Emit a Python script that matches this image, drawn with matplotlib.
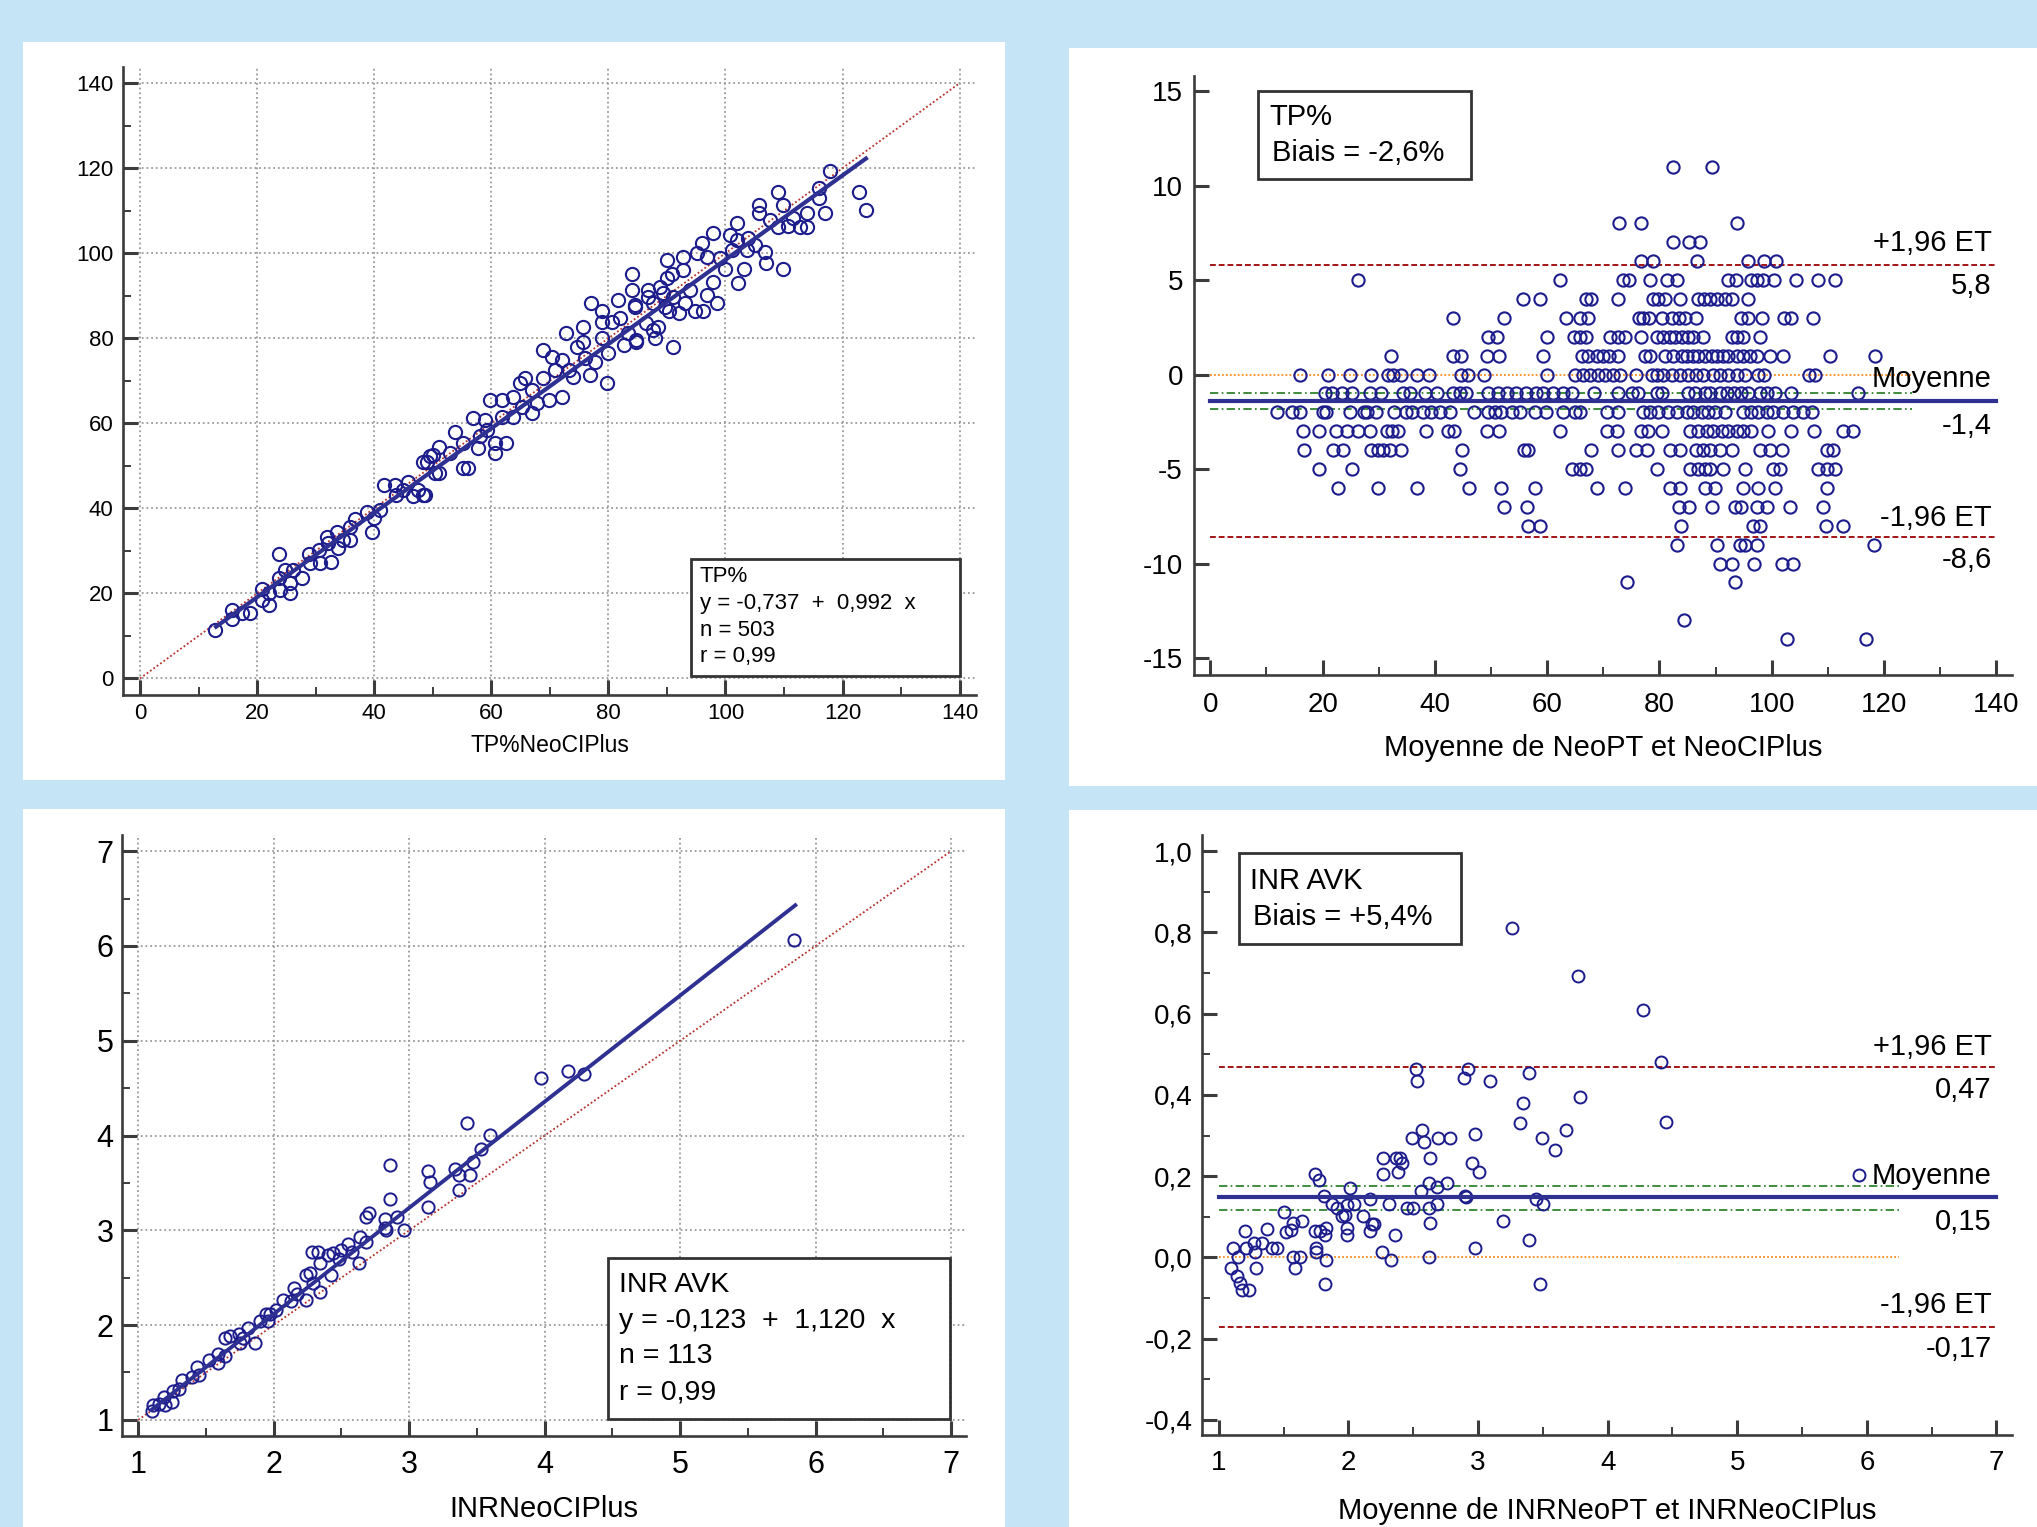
import numpy as np
import matplotlib
matplotlib.use("Agg")
import matplotlib.pyplot as plt
from matplotlib.patches import Rectangle
from matplotlib.ticker import MultipleLocator, FuncFormatter

plt.rcParams["font.family"] = ["Liberation Sans", "DejaVu Sans"]
plt.rcParams["axes.unicode_minus"] = False

W, H = 2037, 1527
BG = "#c5e4f5"
NAVY = "#1c1c8c"
LINE_BLUE = "#2f3192"
AXIS_GREY = "#3c3c3c"
GRID_GREY = "#9a9a9a"
RED = "#a31515"
GREEN = "#1e7a1e"
ORANGE = "#ff8a1c"

# ---- TP% : NeoCIPlus (x) vs NeoPT (y) ----
TP_SCATTER = [
    (12.8, 11.4), (15.7, 16.1), (15.7, 14.0), (17.4, 15.3), (18.8, 15.5), (20.8, 21.0),
    (20.8, 18.5), (22.0, 17.3), (22.0, 20.0), (23.8, 29.2), (23.8, 23.6), (23.9, 20.8),
    (24.8, 25.5), (25.6, 22.4), (25.7, 20.2), (26.2, 25.5), (27.6, 23.6), (28.8, 29.3),
    (29.0, 27.1), (30.5, 30.2), (30.8, 27.1), (31.9, 33.2), (32.2, 31.8), (32.7, 27.3),
    (33.6, 34.5), (33.9, 30.6), (34.7, 32.6), (35.9, 35.7), (35.9, 32.6), (36.7, 37.4),
    (38.7, 39.2), (39.7, 34.4), (39.9, 37.7), (41.0, 39.6), (41.6, 45.5), (43.6, 45.5),
    (43.8, 43.2), (45.0, 44.3), (45.8, 46.3), (46.7, 42.8), (47.5, 44.3), (48.4, 43.2),
    (49.0, 51.0), (50.1, 52.6), (50.4, 48.3),
    (48.7, 43.2), (48.4, 51.0), (49.5, 52.2), (51.0, 54.5), (51.0, 48.3), (53.0, 53.0),
    (53.8, 58.0), (55.2, 49.4), (56.1, 49.4), (55.2, 55.3), (56.8, 61.3), (57.8, 54.1),
    (58.1, 56.9), (58.9, 60.8), (59.2, 58.4), (59.8, 65.5), (60.6, 55.3), (60.6, 53.0),
    (61.8, 65.5), (61.8, 61.6), (62.6, 55.3), (63.8, 66.3), (63.8, 61.6), (64.9, 69.4),
    (65.2, 63.9), (65.8, 70.6), (66.9, 62.4), (66.9, 67.8), (67.8, 64.7), (68.9, 77.2),
    (68.9, 70.6), (69.8, 65.5), (70.3, 75.7), (70.9, 72.5), (72.0, 74.9), (72.0, 66.3),
    (72.8, 81.3), (73.2, 72.5), (74.0, 71.0), (74.6, 78.0), (75.7, 82.7), (75.7, 79.2),
    (76.0, 75.3), (76.9, 71.4), (77.0, 88.2), (77.7, 74.5), (78.9, 86.3), (78.9, 83.9),
    (79.0, 80.0), (79.7, 69.4), (80.0, 76.5), (80.6, 83.9), (81.7, 89.0), (82.0, 84.7),
    (82.6, 78.4), (83.4, 81.2), (84.0, 91.4), (84.6, 87.4), (84.8, 79.6), (86.5, 83.5),
    (86.8, 91.4), (87.7, 88.2), (88.0, 80.0), (88.5, 82.7), (89.4, 90.6), (90.3, 86.3),
    (84.0, 95.0), (84.6, 87.8), (84.8, 79.2), (86.8, 89.8), (87.7, 82.0), (88.8, 92.1),
    (89.7, 87.4), (90.0, 98.4), (90.0, 94.1), (90.8, 95.0), (91.0, 78.0), (91.1, 89.8),
    (92.0, 85.9), (92.8, 99.2), (92.8, 96.0), (93.1, 88.2), (94.0, 91.4), (94.8, 86.3),
    (95.1, 100.0), (96.0, 102.3), (96.2, 86.3), (96.8, 99.2), (96.8, 90.2), (97.8, 104.7),
    (97.9, 93.3), (98.5, 88.2), (99.1, 98.8), (99.9, 96.4), (100.8, 104.3), (101.1, 100.8),
    (101.9, 107.0), (101.9, 103.1), (102.2, 92.9), (103.1, 96.4), (103.6, 100.8),
    (103.9, 103.5), (105.1, 102.0), (105.8, 111.3), (105.8, 109.4), (106.8, 100.4),
    (107.0, 97.6), (107.6, 107.8), (108.9, 114.5), (109.0, 106.2), (109.9, 111.3),
    (109.9, 96.4), (110.7, 106.4), (111.6, 108.2), (112.7, 106.2), (113.9, 109.4),
    (113.9, 106.2), (115.9, 115.3), (116.0, 113.1), (117.0, 109.5), (117.9, 119.4),
    (122.9, 114.5), (124.0, 110.2),
]
TP_FIT = (-0.737, 0.992)
TP_FIT_RANGE = (13.0, 124.0)

# ---- TP% Bland-Altman: one row per (integer) difference ----
TP_DIFF_ROWS = [11, 8, 7, 6, 5, 4, 3, 2, 1, 0, -1, -2, -3, -4, -5, -6, -7, -8, -9, -10, -11, -13, -14]
TP_MEAN_ROWS = [
    [82.4, 89.4],
    [72.8, 76.8, 93.8],
    [82.4, 85.3, 87.2],
    [76.7, 78.8, 86.7, 95.8, 98.7, 100.8],
    [26.4, 62.3, 73.5, 74.5, 78.3, 81.3, 83.1, 92.3, 93.6, 96.4, 97.3, 98.5, 100.4, 104.3, 108.3, 111.3],
    [55.7, 58.7, 66.9, 67.9, 72.7, 78.9, 79.8, 81.0, 83.7, 86.9, 87.9, 89.0, 90.2, 91.7, 92.9, 95.8],
    [43.3, 52.3, 63.4, 65.9, 67.3, 76.4, 77.1, 78.2, 80.4, 82.2, 83.4, 84.6, 86.5, 94.5, 95.8, 98.2,
     102.2, 103.5, 107.4],
    [49.5, 51.0, 59.9, 64.7, 65.9, 67.0, 71.2, 72.7, 73.9, 76.8, 79.5, 80.7, 81.9, 82.8, 84.0, 85.1,
     86.0, 87.8, 92.9, 93.8, 94.9, 97.9],
    [32.2, 43.3, 44.6, 49.3, 51.5, 59.3, 66.2, 67.3, 68.8, 69.9, 71.1, 72.7, 77.4, 78.3, 81.0, 82.5,
     84.0, 84.9, 86.0, 86.9, 88.1, 89.3, 90.2, 91.4, 92.3, 93.8, 94.9, 96.1, 97.3, 99.7, 102.1, 110.4, 118.4],
    [15.9, 20.9, 24.9, 28.7, 31.7, 32.6, 34.0, 36.8, 38.9, 44.6, 45.9, 48.8, 59.9, 64.9, 66.4, 67.7,
     69.1, 70.3, 71.8, 73.0, 75.8, 78.6, 79.5, 80.7, 82.2, 83.7, 85.1, 86.5, 87.8, 89.6, 90.8, 92.3,
     93.8, 95.2, 97.6, 98.6, 106.7, 107.7],
    [20.5, 21.6, 23.4, 25.2, 28.5, 30.4, 34.3, 35.6, 38.2, 40.3, 43.2, 44.5, 45.5, 49.5, 51.3, 52.9,
     54.5, 56.3, 58.0, 59.3, 61.1, 62.9, 64.4, 68.4, 72.7, 75.1, 76.2, 79.5, 80.4, 85.1, 86.3, 88.1,
     89.0, 90.8, 92.0, 93.2, 94.6, 95.8, 97.9, 99.1, 100.6, 103.5, 115.4],
    [11.8, 14.5, 16.0, 20.0, 20.7, 24.9, 27.3, 27.9, 29.6, 32.7, 34.9, 35.9, 37.8, 39.4, 40.9, 42.7,
     46.9, 49.5, 50.7, 51.7, 53.7, 55.2, 57.8, 59.8, 62.8, 64.9, 65.9, 70.6, 72.7, 77.1, 78.3, 79.8,
     81.6, 83.1, 84.9, 86.0, 87.5, 88.7, 89.9, 91.7, 94.9, 96.4, 97.6, 99.1, 100.3, 102.1, 103.8,
     105.6, 107.1],
    [16.5, 19.3, 22.4, 24.3, 26.4, 28.5, 31.4, 32.3, 33.5, 38.4, 42.4, 43.4, 49.3, 51.5, 62.3, 70.6,
     72.4, 76.8, 78.0, 80.4, 85.4, 86.9, 88.4, 89.6, 91.1, 92.3, 93.8, 94.9, 96.4, 99.4, 103.5, 107.5,
     112.7, 114.5],
    [16.7, 21.8, 23.7, 28.7, 29.9, 30.8, 32.0, 33.9, 44.8, 55.8, 56.6, 67.8, 72.7, 75.9, 77.7, 81.9,
     83.7, 86.6, 87.8, 89.0, 90.8, 92.9, 97.9, 99.7, 101.8, 109.8, 111.0],
    [19.4, 25.2, 44.5, 64.4, 65.9, 67.0, 79.5, 85.4, 86.9, 88.1, 89.0, 91.4, 95.2, 100.3, 101.5,
     108.3, 109.8, 111.3],
    [22.8, 29.9, 36.9, 46.0, 51.7, 57.9, 68.9, 73.9, 81.9, 83.7, 88.1, 89.9, 94.9, 97.6, 100.6, 109.8],
    [52.3, 56.4, 83.4, 85.2, 89.3, 93.5, 94.6, 97.3, 99.1, 103.2, 109.2],
    [56.6, 58.7, 83.8, 96.7, 97.9, 109.7, 112.7],
    [83.2, 90.2, 94.3, 95.2, 97.3, 118.3],
    [90.8, 92.9, 96.9, 101.9, 103.8],
    [74.2, 93.5],
    [84.4],
    [102.8, 116.8],
]
TP_MEAN_DIFF = -1.4
TP_CI = (-1.0, -1.8)
TP_LIMITS = (5.8, -8.6)

# ---- INR : INRNeoCIPlus (x) vs INRNeoPT (y) ----
INR_SCATTER = [
    (1.10, 1.09), (1.11, 1.16), (1.15, 1.17), (1.20, 1.16), (1.19, 1.24), (1.25, 1.19),
    (1.26, 1.30), (1.30, 1.33), (1.32, 1.42), (1.40, 1.45), (1.43, 1.56), (1.45, 1.47),
    (1.52, 1.63), (1.59, 1.70), (1.59, 1.60), (1.64, 1.67), (1.64, 1.86), (1.68, 1.89),
    (1.74, 1.91), (1.75, 1.81), (1.77, 1.86), (1.81, 1.97), (1.86, 1.81), (1.90, 2.04),
    (1.94, 2.12), (1.97, 2.12), (1.96, 2.04), (2.02, 2.16), (2.07, 2.26), (2.13, 2.25),
    (2.15, 2.39), (2.17, 2.33), (2.24, 2.26), (2.24, 2.53), (2.27, 2.55), (2.29, 2.44),
    (2.28, 2.77), (2.33, 2.77), (2.34, 2.65), (2.34, 2.35), (2.40, 2.74), (2.42, 2.53),
    (2.44, 2.76), (2.48, 2.70), (2.50, 2.79), (2.55, 2.86), (2.58, 2.77), (2.63, 2.65),
    (2.64, 2.93), (2.68, 2.88), (2.68, 3.14), (2.70, 3.18), (2.82, 3.12), (2.82, 3.02),
    (2.83, 3.00), (2.86, 3.69), (2.86, 3.33), (2.91, 3.14), (2.96, 3.00), (3.14, 3.63),
    (3.15, 3.51), (3.14, 3.25), (3.34, 3.65), (3.37, 3.58), (3.45, 3.58), (3.37, 3.43),
    (3.47, 3.72), (3.53, 3.86), (3.60, 4.01), (3.43, 4.13), (3.97, 4.61), (4.17, 4.68),
    (4.29, 4.65), (5.84, 6.06),
]
INR_FIT = (-0.123, 1.120)
INR_FIT_RANGE = (1.1, 5.85)

# ---- INR Bland-Altman ----
INR_BA = [
    (1.09, -0.027), (1.11, 0.023), (1.15, 0.002), (1.14, -0.045), (1.16, -0.064), (1.18, -0.080),
    (1.23, -0.080), (1.20, 0.064), (1.21, 0.023), (1.27, 0.035), (1.28, 0.014), (1.29, -0.027),
    (1.33, 0.035), (1.37, 0.069), (1.41, 0.023), (1.45, 0.023), (1.50, 0.111), (1.52, 0.062),
    (1.56, 0.068), (1.57, 0.086), (1.64, 0.091), (1.57, 0.002), (1.59, -0.027), (1.63, 0.002),
    (1.74, 0.205), (1.77, 0.191), (1.74, 0.064), (1.78, 0.064), (1.82, 0.055), (1.83, 0.072),
    (1.75, 0.023), (1.75, 0.014), (1.83, -0.006), (1.82, -0.066), (1.81, 0.151), (1.87, 0.132),
    (1.91, 0.121), (1.95, 0.102), (1.97, 0.105), (1.99, 0.129), (2.01, 0.172), (2.04, 0.132),
    (1.99, 0.072), (1.99, 0.055), (2.11, 0.102), (2.17, 0.143), (2.18, 0.083), (2.17, 0.064),
    (2.20, 0.083), (2.26, 0.014), (2.31, 0.132), (2.33, -0.006), (2.36, 0.055), (2.27, 0.244),
    (2.27, 0.205), (2.37, 0.244), (2.40, 0.244), (2.41, 0.232), (2.38, 0.211), (2.45, 0.123),
    (2.50, 0.121), (2.49, 0.293), (2.57, 0.314), (2.58, 0.285), (2.56, 0.164), (2.62, 0.184),
    (2.68, 0.173), (2.63, 0.244), (2.62, 0.123), (2.68, 0.132), (2.63, 0.084), (2.62, 0.002),
    (2.69, 0.293), (2.78, 0.293), (2.76, 0.184), (2.52, 0.463), (2.53, 0.434), (2.89, 0.441),
    (2.92, 0.463), (3.09, 0.434), (2.98, 0.304), (2.95, 0.232), (3.01, 0.211), (2.90, 0.151),
    (2.91, 0.150), (3.19, 0.091), (2.98, 0.023), (3.35, 0.381), (3.32, 0.332), (3.39, 0.453),
    (3.49, 0.293), (3.59, 0.265), (3.45, 0.143), (3.50, 0.132), (3.39, 0.043), (3.48, -0.066),
    (3.26, 0.812), (3.77, 0.692), (4.27, 0.610), (4.41, 0.481), (4.45, 0.333), (3.79, 0.394),
    (3.68, 0.314), (5.94, 0.204),
]
INR_MEAN_DIFF = 0.15
INR_CI = (0.177, 0.117)
INR_LIMITS = (0.47, -0.17)


def px_axes(fig, left, top, right, bottom):
    return fig.add_axes([left / W, 1 - bottom / H, (right - left) / W, (bottom - top) / H])


def white_panel(fig, left, top, right, bottom):
    fig.add_artist(Rectangle((left / W, 1 - bottom / H), (right - left) / W, (bottom - top) / H,
                             transform=fig.transFigure, facecolor="white", edgecolor="none", zorder=-5))


def style_axes(ax, labelsize, xpad, ypad):
    ax.set_facecolor("none")
    for side in ["top", "right"]:
        ax.spines[side].set_visible(False)
    for side in ["left", "bottom"]:
        ax.spines[side].set_linewidth(1.9)
        ax.spines[side].set_color(AXIS_GREY)
    ax.tick_params(which="major", direction="in", length=11, width=2.2, color=AXIS_GREY,
                   labelsize=labelsize, labelcolor="black")
    ax.tick_params(which="minor", direction="in", length=6, width=1.4, color=AXIS_GREY)
    ax.tick_params(axis="x", which="major", pad=xpad)
    ax.tick_params(axis="y", which="major", pad=ypad)


def comma(fmt):
    return FuncFormatter(lambda v, _: (fmt % v).replace(".", ","))


def info_box(ax, x0, y0, x1, y1):
    ax.add_patch(Rectangle((x0, y0), x1 - x0, y1 - y0, transform=ax.transAxes, facecolor="white",
                           edgecolor="#333333", linewidth=2.0, zorder=6, clip_on=False))


def grid_lines(ax):
    ax.grid(True, which="major", color=GRID_GREY, linestyle=(0, (1, 1.6)), linewidth=1.3)
    ax.set_axisbelow(True)


fig = plt.figure(figsize=(W / 100, H / 100), dpi=100, facecolor=BG)

white_panel(fig, 23, 42, 1005, 780)
white_panel(fig, 1069, 48, 2037, 786)
white_panel(fig, 23, 809, 1005, 1527)
white_panel(fig, 1069, 810, 2037, 1527)

# ---------------- panel 1 ----------------
ax1 = px_axes(fig, 123, 67, 976, 695)
style_axes(ax1, 16, 6, 7)
grid_lines(ax1)
px, py = zip(*TP_SCATTER)
ax1.plot([0, 140], [0, 140], color="#b5312a", linestyle=(0, (1, 1.3)), linewidth=1.3, zorder=2)
ax1.plot(px, py, linestyle="none", marker="o", markersize=9.5, markerfacecolor="none",
         markeredgecolor=NAVY, markeredgewidth=1.5, zorder=3)
fx = np.array(TP_FIT_RANGE)
ax1.plot(fx, TP_FIT[0] + TP_FIT[1] * fx, color=LINE_BLUE, linewidth=3.0, zorder=4)
ax1.set_xlim(-2.9, 142.8)
ax1.set_ylim(-3.9, 143.8)
ax1.xaxis.set_major_locator(MultipleLocator(20))
ax1.yaxis.set_major_locator(MultipleLocator(20))
ax1.xaxis.set_minor_locator(MultipleLocator(10))
ax1.yaxis.set_minor_locator(MultipleLocator(10))
ax1.set_xlabel("TP%NeoCIPlus", fontsize=16.5)
ax1.xaxis.set_label_coords(0.5, -0.062)
info_box(ax1, 0.666, 0.030, 0.981, 0.2166)
for txt, yy in zip(["TP%", "y = -0,737  +  0,992  x", "n = 503", "r = 0,99"],
                   [0.188, 0.146, 0.102, 0.061]):
    ax1.text(0.676, yy, txt, transform=ax1.transAxes, fontsize=16, va="center", ha="left", zorder=7)

# ---------------- panel 2 ----------------
ax2 = px_axes(fig, 1194, 76, 2012, 675)
style_axes(ax2, 20, 12, 8)
bx = np.concatenate(TP_MEAN_ROWS)
by = np.concatenate([[d] * len(r) for d, r in zip(TP_DIFF_ROWS, TP_MEAN_ROWS)])
ax2.plot(bx, by, linestyle="none", marker="o", markersize=8.8, markerfacecolor="none",
         markeredgecolor=NAVY, markeredgewidth=1.5, zorder=3)
ax2.plot([0, 125], [0, 0], color=ORANGE, linestyle=(0, (1, 1.2)), linewidth=1.3, zorder=2)
for ci in TP_CI:
    ax2.plot([0, 125], [ci, ci], color=GREEN, linestyle=(0, (5, 2, 1, 2)), linewidth=1.2, zorder=2)
for lim in TP_LIMITS:
    ax2.plot([0, 140], [lim, lim], color=RED, linestyle=(0, (3, 1.5)), linewidth=1.4, zorder=2)
ax2.plot([0, 140], [TP_MEAN_DIFF, TP_MEAN_DIFF], color=LINE_BLUE, linewidth=3.0, zorder=4)
ax2.set_xlim(-2.9, 142.8)
ax2.set_ylim(-15.9, 15.8)
ax2.xaxis.set_major_locator(MultipleLocator(20))
ax2.xaxis.set_minor_locator(MultipleLocator(10))
ax2.yaxis.set_major_locator(MultipleLocator(5))
ax2.set_xlabel("Moyenne de NeoPT et NeoCIPlus", fontsize=21)
ax2.xaxis.set_label_coords(0.5, -0.098)
info_box(ax2, 0.078, 0.828, 0.339, 0.975)
ax2.text(0.092, 0.931, "TP%", transform=ax2.transAxes, fontsize=21, va="center", zorder=7)
ax2.text(0.095, 0.872, "Biais = -2,6%", transform=ax2.transAxes, fontsize=21, va="center", zorder=7)
for txt, yy in [("+1,96 ET", 0.721), ("5,8", 0.649), ("Moyenne", 0.494), ("-1,4", 0.416),
                ("-1,96 ET", 0.262), ("-8,6", 0.1915)]:
    ax2.text(0.975, yy, txt, transform=ax2.transAxes, fontsize=21, va="center", ha="right", zorder=7)

# ---------------- panel 3 ----------------
ax3 = px_axes(fig, 122, 835, 966, 1436)
style_axes(ax3, 22, 10, 6)
grid_lines(ax3)
qx, qy = zip(*INR_SCATTER)
ax3.plot([1, 7], [1, 7], color="#b5312a", linestyle=(0, (1, 1.3)), linewidth=1.3, zorder=2)
ax3.plot(qx, qy, linestyle="none", marker="o", markersize=8.8, markerfacecolor="none",
         markeredgecolor=NAVY, markeredgewidth=1.4, zorder=3)
gx = np.array(INR_FIT_RANGE)
ax3.plot(gx, INR_FIT[0] + INR_FIT[1] * gx, color=LINE_BLUE, linewidth=2.8, zorder=4)
ax3.set_xlim(0.88, 7.11)
ax3.set_ylim(0.83, 7.17)
ax3.xaxis.set_major_locator(MultipleLocator(1))
ax3.yaxis.set_major_locator(MultipleLocator(1))
ax3.xaxis.set_minor_locator(MultipleLocator(0.5))
ax3.yaxis.set_minor_locator(MultipleLocator(0.5))
ax3.set_xlabel("INRNeoCIPlus", fontsize=21)
ax3.xaxis.set_label_coords(0.5, -0.099)
info_box(ax3, 0.576, 0.028, 0.981, 0.297)
for txt, yy in zip(["INR AVK", "y = -0,123  +  1,120  x", "n = 113", "r = 0,99"],
                   [0.252, 0.191, 0.133, 0.072]):
    ax3.text(0.589, yy, txt, transform=ax3.transAxes, fontsize=20.5, va="center", ha="left", zorder=7)

# ---------------- panel 4 ----------------
ax4 = px_axes(fig, 1202, 835, 2012, 1435)
style_axes(ax4, 20, 11, 7)
rx, ry = zip(*INR_BA)
ax4.plot(rx, ry, linestyle="none", marker="o", markersize=8.6, markerfacecolor="none",
         markeredgecolor=NAVY, markeredgewidth=1.4, zorder=3)
ax4.plot([1, 6.25], [0, 0], color=ORANGE, linestyle=(0, (1, 1.2)), linewidth=1.3, zorder=2)
for ci in INR_CI:
    ax4.plot([1, 6.25], [ci, ci], color=GREEN, linestyle=(0, (5, 2, 1, 2)), linewidth=1.2, zorder=2)
for lim in INR_LIMITS:
    ax4.plot([1, 7], [lim, lim], color=RED, linestyle=(0, (3, 1.5)), linewidth=1.4, zorder=2)
ax4.plot([1, 7], [INR_MEAN_DIFF, INR_MEAN_DIFF], color=LINE_BLUE, linewidth=3.0, zorder=4)
ax4.set_xlim(0.87, 7.12)
ax4.set_ylim(-0.437, 1.04)
ax4.xaxis.set_major_locator(MultipleLocator(1))
ax4.xaxis.set_minor_locator(MultipleLocator(0.5))
ax4.yaxis.set_major_locator(MultipleLocator(0.2))
ax4.yaxis.set_minor_locator(MultipleLocator(0.1))
ax4.yaxis.set_major_formatter(comma("%.1f"))
ax4.set_xlabel("Moyenne de INRNeoPT et INRNeoCIPlus", fontsize=21)
ax4.xaxis.set_label_coords(0.5, -0.103)
info_box(ax4, 0.0457, 0.818, 0.320, 0.970)
ax4.text(0.059, 0.923, "INR AVK", transform=ax4.transAxes, fontsize=21, va="center", zorder=7)
ax4.text(0.063, 0.864, "Biais = +5,4%", transform=ax4.transAxes, fontsize=21, va="center", zorder=7)
for txt, yy in [("+1,96 ET", 0.647), ("0,47", 0.575), ("Moyenne", 0.431), ("0,15", 0.355),
                ("-1,96 ET", 0.216), ("-0,17", 0.144)]:
    ax4.text(0.975, yy, txt, transform=ax4.transAxes, fontsize=21, va="center", ha="right", zorder=7)

fig.savefig("out.png", dpi=100, facecolor=BG)
